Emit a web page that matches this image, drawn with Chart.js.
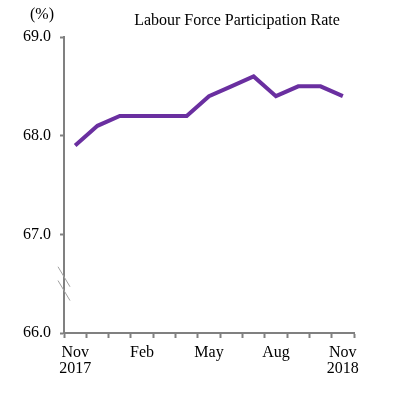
<!DOCTYPE html>
<html>
<head>
<meta charset="utf-8">
<script src="https://cdn.jsdelivr.net/npm/chart.js@4"></script>
<style>
  html, body { margin: 0; padding: 0; background: #fff; }
  #wrap { width: 394px; height: 397px; }
</style>
</head>
<body>
<div id="wrap"><canvas id="lfpr" width="394" height="397"></canvas></div>
<script>
// months Nov 2017 - Nov 2018
const months = ['Nov 2017', 'Dec', 'Jan', 'Feb', 'Mar', 'Apr', 'May', 'Jun', 'Jul', 'Aug', 'Sep', 'Oct', 'Nov 2018'];
const tickLabels = [['Nov', '2017'], '', '', 'Feb', '', '', 'May', '', '', 'Aug', '', '', ['Nov', '2018']];
const rateValues = [67.9, 68.1, 68.2, 68.2, 68.2, 68.2, 68.4, 68.5, 68.6, 68.4, 68.5, 68.5, 68.4];
const yTicks = [66.0, 67.0, 68.0, 69.0];

const serif = '"Liberation Serif", "Times New Roman", serif';
const axisGrey = '#808080';

// titles and axis-break marks
const extras = {
  id: 'extras',
  afterDraw(chart) {
    const ctx = chart.ctx;
    const y = chart.scales.y;
    ctx.save();
    ctx.fillStyle = '#000';
    ctx.font = '16px ' + serif;
    ctx.textAlign = 'center';
    ctx.textBaseline = 'middle';
    ctx.fillText('Labour Force Participation Rate', 237, 21);
    ctx.fillText('(%)', 42, 15);

    // break marks on the y axis
    const x0 = y.right;
    ctx.strokeStyle = '#a0a0a0';
    ctx.lineWidth = 1;
    [66.57, 66.43].forEach(v => {
      const py = y.getPixelForValue(v);
      ctx.beginPath();
      ctx.moveTo(x0 - 6, py - 10);
      ctx.lineTo(x0 + 6, py + 10);
      ctx.stroke();
    });
    ctx.restore();
  }
};

new Chart(document.getElementById('lfpr'), {
  type: 'line',
  data: {
    labels: months,
    datasets: [{
      data: rateValues,
      borderColor: '#6a2fa0',
      borderWidth: 4,
      pointRadius: 0,
      tension: 0,
      fill: false
    }]
  },
  options: {
    responsive: false,
    animation: false,
    layout: { padding: { left: 0, top: 37, right: 40, bottom: 0 } },
    plugins: { legend: { display: false }, tooltip: { enabled: false } },
    scales: {
      x: {
        offset: true,
        afterFit(scale) { scale.height = 64; },
        grid: { display: true, offset: true, drawOnChartArea: false, drawTicks: true, tickLength: 5, tickColor: axisGrey, tickWidth: 2 },
        border: { display: true, color: axisGrey, width: 2 },
        ticks: {
          autoSkip: false,
          maxRotation: 0,
          padding: 6,
          color: '#000',
          font: { family: serif, size: 16, lineHeight: 1.05 },
          callback: (v, i) => tickLabels[i]
        }
      },
      y: {
        min: 66,
        max: 69,
        afterFit(scale) { scale.width = 64; },
        afterBuildTicks(scale) { scale.ticks = yTicks.map(v => ({ value: v })); },
        grid: { display: true, drawOnChartArea: false, drawTicks: true, tickLength: 4, tickColor: axisGrey, tickWidth: 2 },
        border: { display: true, color: axisGrey, width: 2 },
        ticks: {
          padding: 9,
          color: '#000',
          font: { family: serif, size: 16 },
          callback: v => Number(v).toFixed(1)
        }
      }
    }
  },
  plugins: [extras]
});
</script>
</body>
</html>
